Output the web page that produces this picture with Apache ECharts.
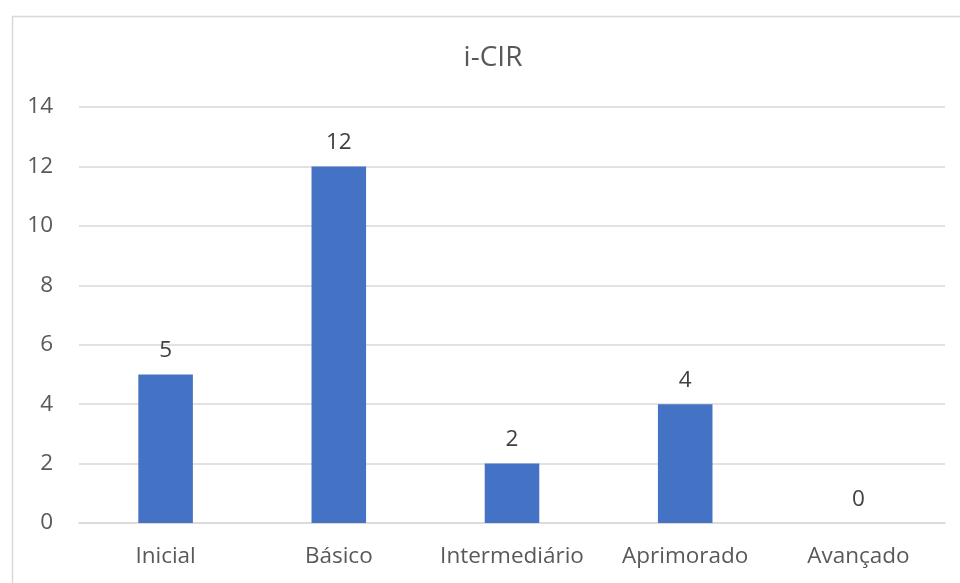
<!DOCTYPE html>
<html><head><meta charset="utf-8">
<script src="https://cdn.jsdelivr.net/npm/echarts@6/dist/echarts.min.js"></script>
<style>html,body{margin:0;padding:0;background:#fff}#c{width:960px;height:583px}</style>
</head><body><div id="c"></div>
<script>
const titleText = 'i-CIR';
const categories = ['Inicial', 'Básico', 'Intermediário', 'Aprimorado', 'Avançado'];
const values = [5, 12, 2, 4, 0];
const yTicks = [0, 2, 4, 6, 8, 10, 12, 14];

const FONT = '"Open Sans", "Noto Sans", sans-serif';
const chart = echarts.init(document.getElementById('c'), null, {renderer: 'canvas'});
chart.setOption({
  animation: false,
  backgroundColor: '#fff',
  graphic: [{
    type: 'rect', left: 10, top: 14, silent: true,
    shape: {x: 0, y: 0, width: 960, height: 600},
    style: {fill: 'none', stroke: '#d9d9d9', lineWidth: 1.5}
  }],
  title: {
    text: titleText, left: 488, top: 39, textAlign: 'center',
    textStyle: {fontFamily: FONT, fontSize: 28, fontWeight: 'normal', color: '#595959'}
  },
  grid: {left: 79, right: 15, top: 107, bottom: 60, containLabel: false},
  xAxis: {
    type: 'category', data: categories,
    axisLine: {lineStyle: {color: '#d9d9d9', width: 1.5}},
    axisTick: {show: false},
    axisLabel: {fontFamily: FONT, fontSize: 22.5, color: '#595959', margin: 22, interval: 0}
  },
  yAxis: {
    type: 'value', min: yTicks[0], max: yTicks[yTicks.length - 1], interval: 2,
    axisLine: {show: false}, axisTick: {show: false},
    splitLine: {lineStyle: {color: '#d9d9d9', width: 1.5}},
    axisLabel: {fontFamily: FONT, fontSize: 22.5, color: '#595959', margin: 26}
  },
  series: [{
    type: 'bar', data: values, barWidth: '31.5%',
    itemStyle: {color: '#4472C4'},
    label: {show: true, position: 'top', distance: 12, fontFamily: FONT, fontSize: 22.5, color: '#404040'}
  }]
});
</script></body></html>
